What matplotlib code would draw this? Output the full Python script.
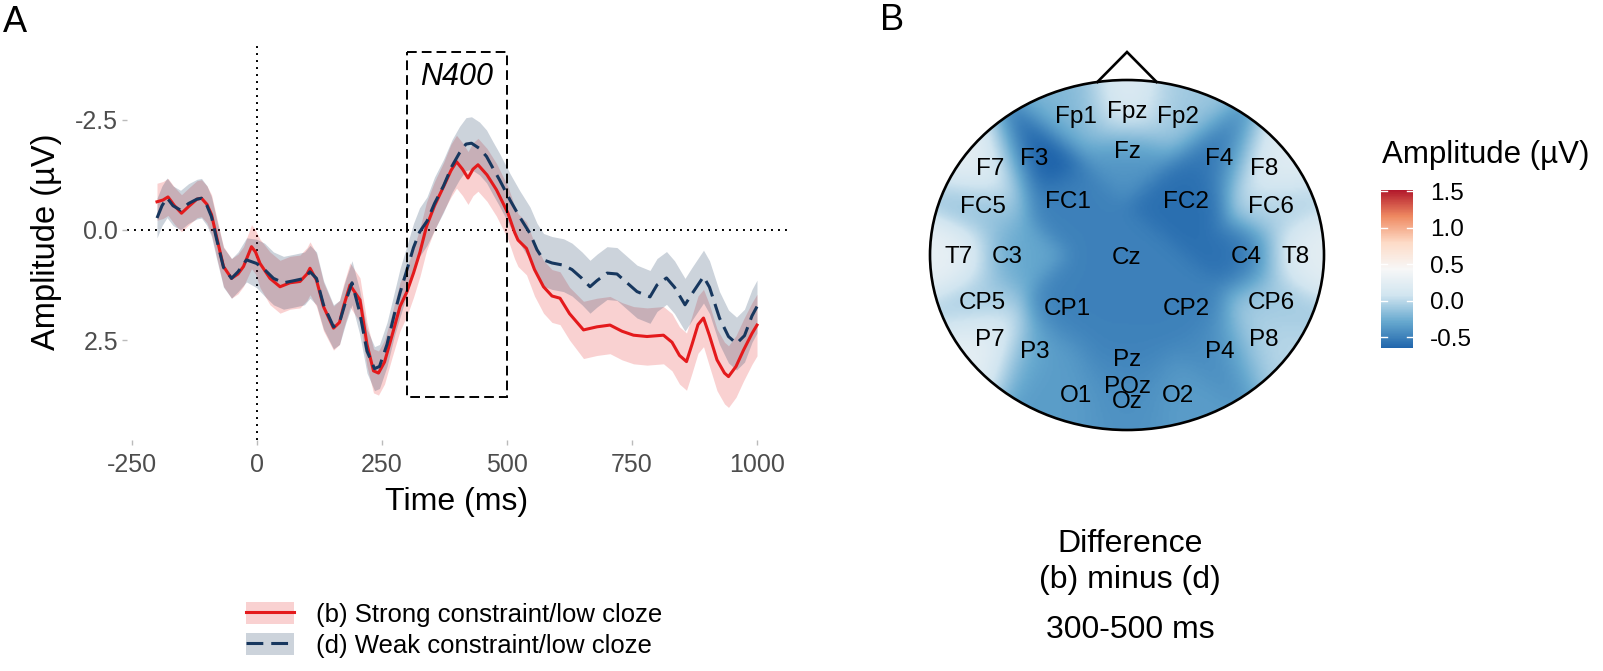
import numpy as np
import matplotlib
matplotlib.use('Agg')
import matplotlib.pyplot as plt
from matplotlib.colors import LinearSegmentedColormap, Normalize
from matplotlib.patches import Circle, Rectangle, Patch
from matplotlib.lines import Line2D
import matplotlib.cm as cm

plt.rcParams['font.family'] = ['Liberation Sans', 'DejaVu Sans']

# ---------------- data: ERP waveforms (µV, negative up) ----------------
b_time = [-200, -188, -178, -165, -151, -135, -120, -111, -100, -91, -81, -67, -51, -38, -27, -11, -3, 6, 26, 46,
          66, 86, 100, 106, 119, 133, 153, 165, 173, 186, 206, 220, 233, 243, 255, 270, 286, 300, 313, 326,
          339, 355, 373, 388, 399, 411, 422, 432, 442, 460, 479, 502, 515, 522, 539, 555, 573, 590, 606, 625,
          653, 680, 706, 730, 753, 780, 813, 830, 845, 859, 870, 882, 893, 905, 920, 935, 943, 958, 973, 990, 1000]
b_amp = [-0.64, -0.68, -0.75, -0.55, -0.38, -0.55, -0.70, -0.72, -0.58, -0.35, 0.15, 0.83, 1.10, 1.00, 0.83, 0.38, 0.50, 0.76, 1.10, 1.29,
         1.20, 1.17, 1.00, 0.87, 1.14, 1.74, 2.23, 2.10, 1.74, 1.25, 1.59, 2.60, 3.20, 3.25, 3.00, 2.40, 1.74, 1.40, 0.98, 0.50,
         -0.08, -0.55, -0.98, -1.35, -1.55, -1.38, -1.18, -1.38, -1.48, -1.25, -0.91, -0.38, 0.05, 0.23, 0.42, 0.90, 1.29, 1.50, 1.55, 1.90,
         2.27, 2.20, 2.16, 2.30, 2.39, 2.42, 2.39, 2.55, 2.85, 2.99, 2.60, 2.15, 2.00, 2.40, 2.95, 3.25, 3.33, 3.10, 2.73, 2.35, 2.16]
b_ci = [0.42, 0.42, 0.42, 0.42, 0.42, 0.42, 0.42, 0.42, 0.42, 0.45, 0.45, 0.45, 0.45, 0.45, 0.45, 0.50, 0.50, 0.55, 0.60, 0.60,
        0.60, 0.60, 0.60, 0.60, 0.60, 0.55, 0.50, 0.50, 0.50, 0.50, 0.50, 0.50, 0.50, 0.50, 0.50, 0.50, 0.55, 0.55, 0.55, 0.55,
        0.55, 0.55, 0.55, 0.60, 0.60, 0.60, 0.60, 0.60, 0.60, 0.60, 0.60, 0.60, 0.60, 0.60, 0.60, 0.60, 0.60, 0.60, 0.60, 0.60,
        0.65, 0.65, 0.65, 0.65, 0.65, 0.65, 0.65, 0.65, 0.65, 0.65, 0.65, 0.65, 0.65, 0.70, 0.70, 0.70, 0.70, 0.70, 0.70, 0.70, 0.70]

d_time = [-200, -190, -180, -168, -153, -137, -120, -111, -100, -91, -81, -67, -51, -38, -21, -1, 15, 33, 53, 75,
          95, 106, 119, 133, 153, 165, 178, 190, 205, 220, 235, 245, 260, 275, 286, 300, 313, 325, 340, 355,
          373, 390, 405, 418, 429, 445, 459, 472, 485, 506, 525, 546, 560, 573, 590, 613, 630, 650, 666, 680,
          700, 720, 740, 760, 786, 800, 819, 835, 856, 870, 893, 905, 925, 943, 959, 975, 990, 1000]
d_amp = [-0.27, -0.55, -0.73, -0.55, -0.45, -0.60, -0.70, -0.72, -0.55, -0.30, 0.20, 0.85, 1.10, 0.95, 0.68, 0.76, 0.90, 1.10, 1.20, 1.15,
         1.10, 0.95, 1.10, 1.70, 2.20, 2.10, 1.60, 1.20, 1.85, 2.75, 3.15, 3.10, 2.60, 1.90, 1.43, 0.90, 0.40, 0.05, -0.20, -0.60,
         -1.00, -1.45, -1.75, -1.95, -1.97, -1.85, -1.67, -1.40, -1.14, -0.68, -0.30, 0.08, 0.45, 0.68, 0.75, 0.80, 0.90, 1.10, 1.29, 1.15,
         0.98, 1.00, 1.20, 1.40, 1.52, 1.25, 1.09, 1.30, 1.70, 1.45, 1.06, 1.30, 2.00, 2.42, 2.58, 2.40, 1.95, 1.74]
d_ci = [0.45, 0.45, 0.45, 0.45, 0.45, 0.45, 0.45, 0.45, 0.45, 0.45, 0.45, 0.45, 0.45, 0.45, 0.50, 0.55, 0.60, 0.60, 0.60, 0.60,
        0.60, 0.60, 0.60, 0.55, 0.50, 0.50, 0.50, 0.50, 0.50, 0.50, 0.50, 0.50, 0.50, 0.50, 0.55, 0.55, 0.55, 0.55, 0.55, 0.60,
        0.60, 0.60, 0.60, 0.60, 0.60, 0.60, 0.60, 0.60, 0.60, 0.60, 0.60, 0.60, 0.60, 0.60, 0.60, 0.60, 0.60, 0.60, 0.60, 0.60,
        0.60, 0.60, 0.60, 0.60, 0.60, 0.60, 0.60, 0.60, 0.60, 0.60, 0.60, 0.60, 0.60, 0.60, 0.60, 0.60, 0.60, 0.60]

series_labels = ['(b) Strong constraint/low cloze', '(d) Weak constraint/low cloze']
x_ticks = [-250, 0, 250, 500, 750, 1000]
y_ticks = [-2.5, 0.0, 2.5]
y_tick_labels = ['-2.5', '0.0', '2.5']
n400_window = [300, 500]
n400_amp_span = [-4.05, 3.8]

# ---------------- data: topography (difference b - d, 300-500 ms) ----------------
el_names = ['Fp1', 'Fpz', 'Fp2', 'F7', 'F3', 'Fz', 'F4', 'F8', 'FC5', 'FC1', 'FC2', 'FC6',
            'T7', 'C3', 'Cz', 'C4', 'T8', 'CP5', 'CP1', 'CP2', 'CP6',
            'P7', 'P3', 'Pz', 'P4', 'P8', 'O1', 'POz', 'Oz', 'O2']
el_x = [-0.26, 0.0, 0.26, -0.694, -0.47, 0.0, 0.47, 0.694, -0.732, -0.301, 0.301, 0.732,
        -0.857, -0.607, 0.0, 0.607, 0.857, -0.732, -0.301, 0.301, 0.732,
        -0.694, -0.47, 0.0, 0.47, 0.694, -0.26, 0.0, 0.0, 0.26]
el_y = [0.79, 0.817, 0.79, 0.491, 0.551, 0.589, 0.551, 0.491, 0.274, 0.303, 0.303, 0.274,
        -0.011, -0.011, -0.017, -0.011, -0.011, -0.274, -0.309, -0.309, -0.274,
        -0.486, -0.554, -0.60, -0.554, -0.486, -0.806, -0.754, -0.84, -0.806]
el_val = [-0.20, 0.20, -0.10, 0.30, -0.75, -0.40, -0.60, 0.25, -0.15, -0.50, -0.60, -0.05,
          0.30, -0.30, -0.50, -0.60, 0.25, -0.10, -0.50, -0.50, -0.10,
          0.30, -0.35, -0.50, -0.45, 0.00, -0.35, -0.45, -0.40, -0.35]
cbar_limits = [-0.65, 1.52]
cbar_ticks = [-0.5, 0.0, 0.5, 1.0, 1.5]
cbar_tick_labels = ['-0.5', '0.0', '0.5', '1.0', '1.5']
rdbu7 = ['#2166AC', '#67A9CF', '#D1E5F0', '#F7F7F7', '#FDDBC7', '#EF8A62', '#B2182B']

# ---------------- figure ----------------
W, H = 1603, 671
fig = plt.figure(figsize=(W / 100, H / 100), dpi=100)


def box(x0, y0, x1, y1):
    return [x0 / W, 1 - y1 / H, (x1 - x0) / W, (y1 - y0) / H]


red = '#E41A1C'
navy = '#17375E'
grey_txt = '#4D4D4D'

ax = fig.add_axes(box(127, 45, 787, 440))
ax.set_xlim(-260, 1060)
ax.set_ylim(4.77, -4.2)
for s in ax.spines.values():
    s.set_visible(False)

ax.axhline(0, color='black', lw=1.4, ls=(0, (1, 2.6)), zorder=1)
ax.axvline(0, color='black', lw=1.4, ls=(0, (1, 2.6)), zorder=1)

bt, ba, bc = np.array(b_time), np.array(b_amp), np.array(b_ci)
dt, da, dc = np.array(d_time), np.array(d_amp), np.array(d_ci)
ax.fill_between(bt, ba - bc, ba + bc, color=red, alpha=0.2, lw=0, zorder=2)
ax.fill_between(dt, da - dc, da + dc, color=navy, alpha=0.22, lw=0, zorder=2)
ax.plot(bt, ba, color=red, lw=2.2, zorder=3, solid_joinstyle='round')
ax.plot(dt, da, color=navy, lw=2.2, ls=(0, (5.5, 2.6)), zorder=4)

ax.add_patch(Rectangle((n400_window[0], n400_amp_span[0]), n400_window[1] - n400_window[0],
                       n400_amp_span[1] - n400_amp_span[0], fill=False, ec='black', lw=1.4,
                       ls=(0, (5, 2.6)), zorder=5))
ax.text(np.mean(n400_window), -3.48, 'N400', style='italic', fontsize=22, ha='center', va='center')

ax.set_xticks(x_ticks)
ax.set_xticklabels([str(v) for v in x_ticks])
ax.set_yticks(y_ticks)
ax.set_yticklabels(y_tick_labels)
ax.tick_params(axis='both', colors='#BBBBBB', labelcolor=grey_txt, labelsize=18, length=3.5, width=1)
ax.tick_params(axis='x', pad=6)
ax.tick_params(axis='y', pad=3)

fig.text(47 / W, 1 - 242 / H, 'Amplitude (µV)', rotation=90, ha='center', va='center', fontsize=23.5)
fig.text(457 / W, 1 - 502 / H, 'Time (ms)', ha='center', va='center', fontsize=23)

# legend
h1 = (Patch(facecolor=red, alpha=0.2, lw=0), Line2D([], [], color=red, lw=2.2))
h2 = (Patch(facecolor=navy, alpha=0.22, lw=0), Line2D([], [], color=navy, lw=2.2, ls=(0, (5.5, 2.6))))
fig.legend([h1, h2], series_labels, loc='upper left', bbox_to_anchor=(246 / W, 1 - 602 / H),
           frameon=False, fontsize=18.5, handlelength=1.87, handleheight=0.93,
           handletextpad=0.85, labelspacing=0.25, borderpad=0, borderaxespad=0)

# panel letters
fig.text(3 / W, 1 - 32 / H, 'A', fontsize=26, ha='left', va='baseline')
fig.text(880 / W, 1 - 30 / H, 'B', fontsize=26, ha='left', va='baseline')

# ---------------- topomap ----------------
cx_px, cy_px, rx_px, ry_px = 1127, 255, 197, 175
axT = fig.add_axes(box(920, 45, 1330, 440))
axT.axis('off')

cmap = LinearSegmentedColormap.from_list('rdbu_r', rdbu7)
norm = Normalize(vmin=cbar_limits[0], vmax=cbar_limits[1])

# Gaussian-kernel weighted interpolation of electrode values onto a grid
pts = np.column_stack([el_x, el_y])
vals = np.array(el_val)
gx, gy = np.meshgrid(np.linspace(-1.02, 1.02, 260), np.linspace(-1.02, 1.02, 260))
gp = np.column_stack([gx.ravel(), gy.ravel()])
d2 = ((gp[:, None, :] - pts[None, :, :]) ** 2).sum(axis=2)
kw = np.exp(-d2 / (2 * 0.12 ** 2)) + 1e-12
field = ((kw @ vals) / kw.sum(axis=1)).reshape(gx.shape)

im = axT.imshow(field, extent=[-1.02, 1.02, -1.02, 1.02], origin='lower', cmap=cmap, norm=norm,
                interpolation='bilinear', aspect='auto', zorder=1)
axT.set_xlim((920 - cx_px) / rx_px, (1330 - cx_px) / rx_px)
axT.set_ylim((cy_px - 440) / ry_px, (cy_px - 45) / ry_px)
axT.set_aspect('auto')
clip = Circle((0, 0), 1.0, transform=axT.transData)
im.set_clip_path(clip)
axT.add_patch(Circle((0, 0), 1.0, fill=False, ec='black', lw=1.9, zorder=3))
axT.plot([-0.15, 0.0, 0.15], [0.989, 1.16, 0.989], color='black', lw=1.9, zorder=3,
         solid_joinstyle='miter')

for name, x, y in zip(el_names, el_x, el_y):
    axT.text(x, y, name, ha='center', va='center', fontsize=17.5, color='black', zorder=4)

# colorbar
cax = fig.add_axes(box(1381, 190, 1413, 348))
sm = cm.ScalarMappable(norm=norm, cmap=cmap)
cb = fig.colorbar(sm, cax=cax, ticks=cbar_ticks)
cb.outline.set_visible(False)
cb.ax.tick_params(length=0, pad=12, labelsize=17.5)
cb.ax.set_yticklabels(cbar_tick_labels)
for v in cbar_ticks:
    cax.plot([0, 0.2], [v, v], color='white', lw=1, zorder=5)
    cax.plot([0.8, 1.0], [v, v], color='white', lw=1, zorder=5)
fig.text(1382 / W, 1 - 163 / H, 'Amplitude (µV)', fontsize=22.5, ha='left', va='baseline')

# captions
fig.text(1130 / W, 1 - 552 / H, 'Difference', fontsize=23, ha='center', va='baseline')
fig.text(1130 / W, 1 - 588 / H, '(b) minus (d)', fontsize=23, ha='center', va='baseline')
fig.text(1130 / W, 1 - 638 / H, '300-500 ms', fontsize=23, ha='center', va='baseline')

fig.savefig('out.png', dpi=100)
